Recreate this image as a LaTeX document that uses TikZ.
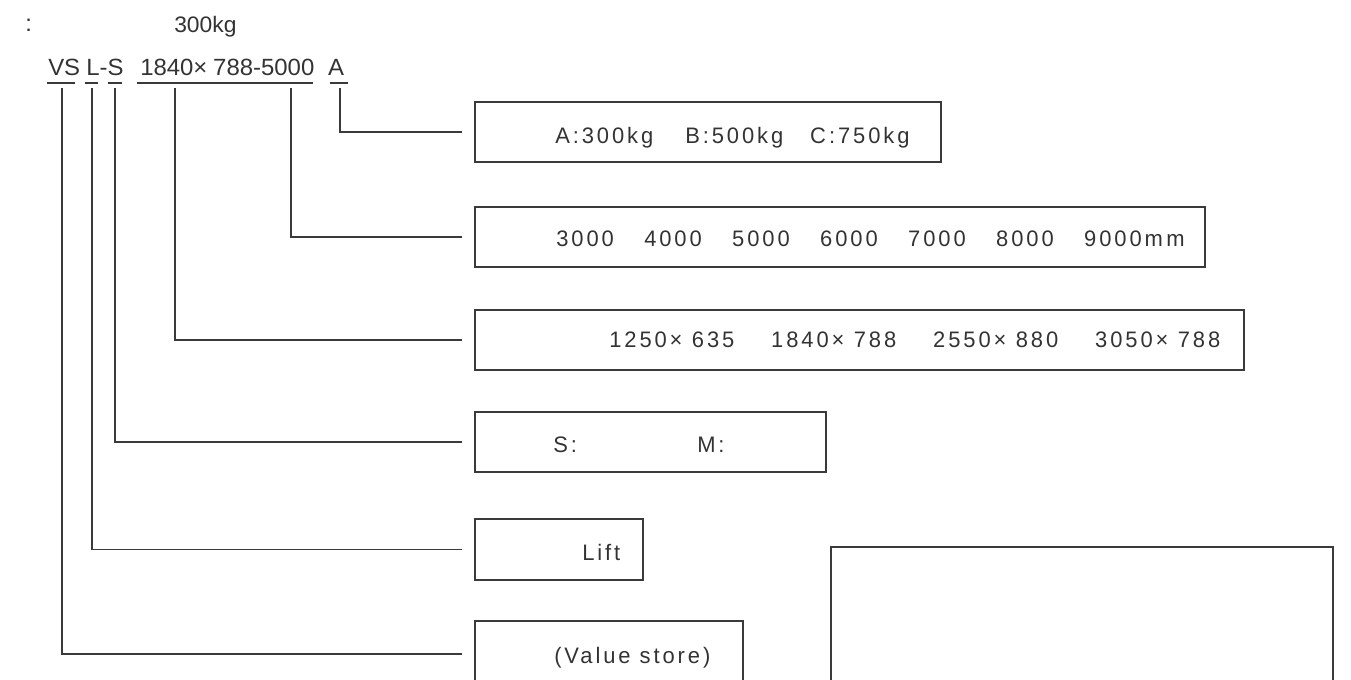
\documentclass[tikz,border=0pt]{standalone}
\usepackage{fontspec}
\setmainfont{Liberation Sans}
\newfontfamily\topf[FakeStretch=1.02]{Liberation Sans}
\newfontfamily\boxf[FakeStretch=0.98,LetterSpace=13]{Liberation Sans}
\usetikzlibrary{fit}
\definecolor{ink}{HTML}{333333}
\definecolor{rule}{HTML}{3A3A3A}
\begin{document}
\begin{tikzpicture}[x=0.75pt,y=-0.75pt,
  lbl/.style={anchor=base west, inner sep=0, text=ink},
  toptext/.style={lbl, font=\topf\fontsize{17.6}{20}\selectfont},
  boxtext/.style={lbl, font=\boxf\fontsize{16.8}{20}\selectfont},
  box/.style={draw=rule, line width=0.9pt, inner sep=0pt},
  uline/.style={draw=rule, line width=0.9pt},
  conn/.style={draw=rule, line width=0.9pt, shorten >=9pt}]
\useasboundingbox (0,0) rectangle (1351,679);
\clip (0,0) rectangle (1351,679);

% title line
\node[toptext] (colon) at (25,31) {:};
\node[toptext, font=\topf\fontsize{16.8}{20}\selectfont] (weight) at (174,32) {300kg};

% model code
\node[toptext] (code) at (48,75) {\makebox[28.5pt][l]{VS}\makebox[40.5pt][l]{L-S}\makebox[54.75pt][l]{1840×}\makebox[86.25pt][l]{788-5000}A};

% underlines
\draw[uline] (47,83) coordinate (uVSa) -- (75,83) coordinate (uVSb);
\draw[uline] (85,83) coordinate (uLa) -- (98,83) coordinate (uLb);
\draw[uline] (108,83) coordinate (uSa) -- (122,83) coordinate (uSb);
\draw[uline] (137,83) coordinate (uNa) -- (313,83) coordinate (uNb);
\draw[uline] (330,83) coordinate (uAa) -- (348,83) coordinate (uAb);

% tick starts
\coordinate (tVS) at (62,88);
\coordinate (tL) at (92,88);
\coordinate (tS) at (115,88);
\coordinate (tSize) at (175,88);
\coordinate (tLen) at (291,88);
\coordinate (tA) at (340,88);

% boxes
\node[box, fit={(475,102) (941,162)}] (bA) {};
\node[box, fit={(475,207) (1205,267)}] (bLen) {};
\node[box, fit={(475,310) (1244,370)}] (bSize) {};
\node[box, fit={(475,412) (826,472)}] (bS) {};
\node[box, fit={(475,519) (643,580)}] (bL) {};
\node[box, fit={(475,621) (743,687)}] (bVS) {};
\node[box, fit={(831,547) (1333,720)}] (bBig) {};

% box texts
\node[boxtext] (tx1) at (555,143) {\makebox[97.5pt][l]{A:300kg}\makebox[93.75pt][l]{B:500kg}C:750kg};
\node[boxtext] (tx2) at (556,246) {\makebox[66pt][l]{3000}\makebox[66pt][l]{4000}\makebox[66pt][l]{5000}\makebox[66pt][l]{6000}\makebox[66pt][l]{7000}\makebox[66pt][l]{8000}9000m\kern2.5pt m};
\node[boxtext] (tx3) at (609,347) {\makebox[121.5pt][l]{1250×\hspace{7pt}635}\makebox[121.5pt][l]{1840×\hspace{7pt}788}\makebox[121.5pt][l]{2550×\hspace{7pt}880}3050×\hspace{7pt}788};
\node[boxtext] (tx4) at (553,452) {\makebox[108pt][l]{S:}M:};
\node[boxtext] (tx5) at (582,560) {Lift};
\node[boxtext] (tx6) at (554,663) {(Value store)};

% connectors
\draw[conn] (tA) |- (bA.west);
\draw[conn] (tLen) |- (bLen.west);
\draw[conn] (tSize) |- (bSize.west);
\draw[conn] (tS) |- (bS.west);
\draw[conn] (tL) |- (bL.west);
\draw[conn] (tVS) |- (bVS.west);
\end{tikzpicture}
\end{document}
